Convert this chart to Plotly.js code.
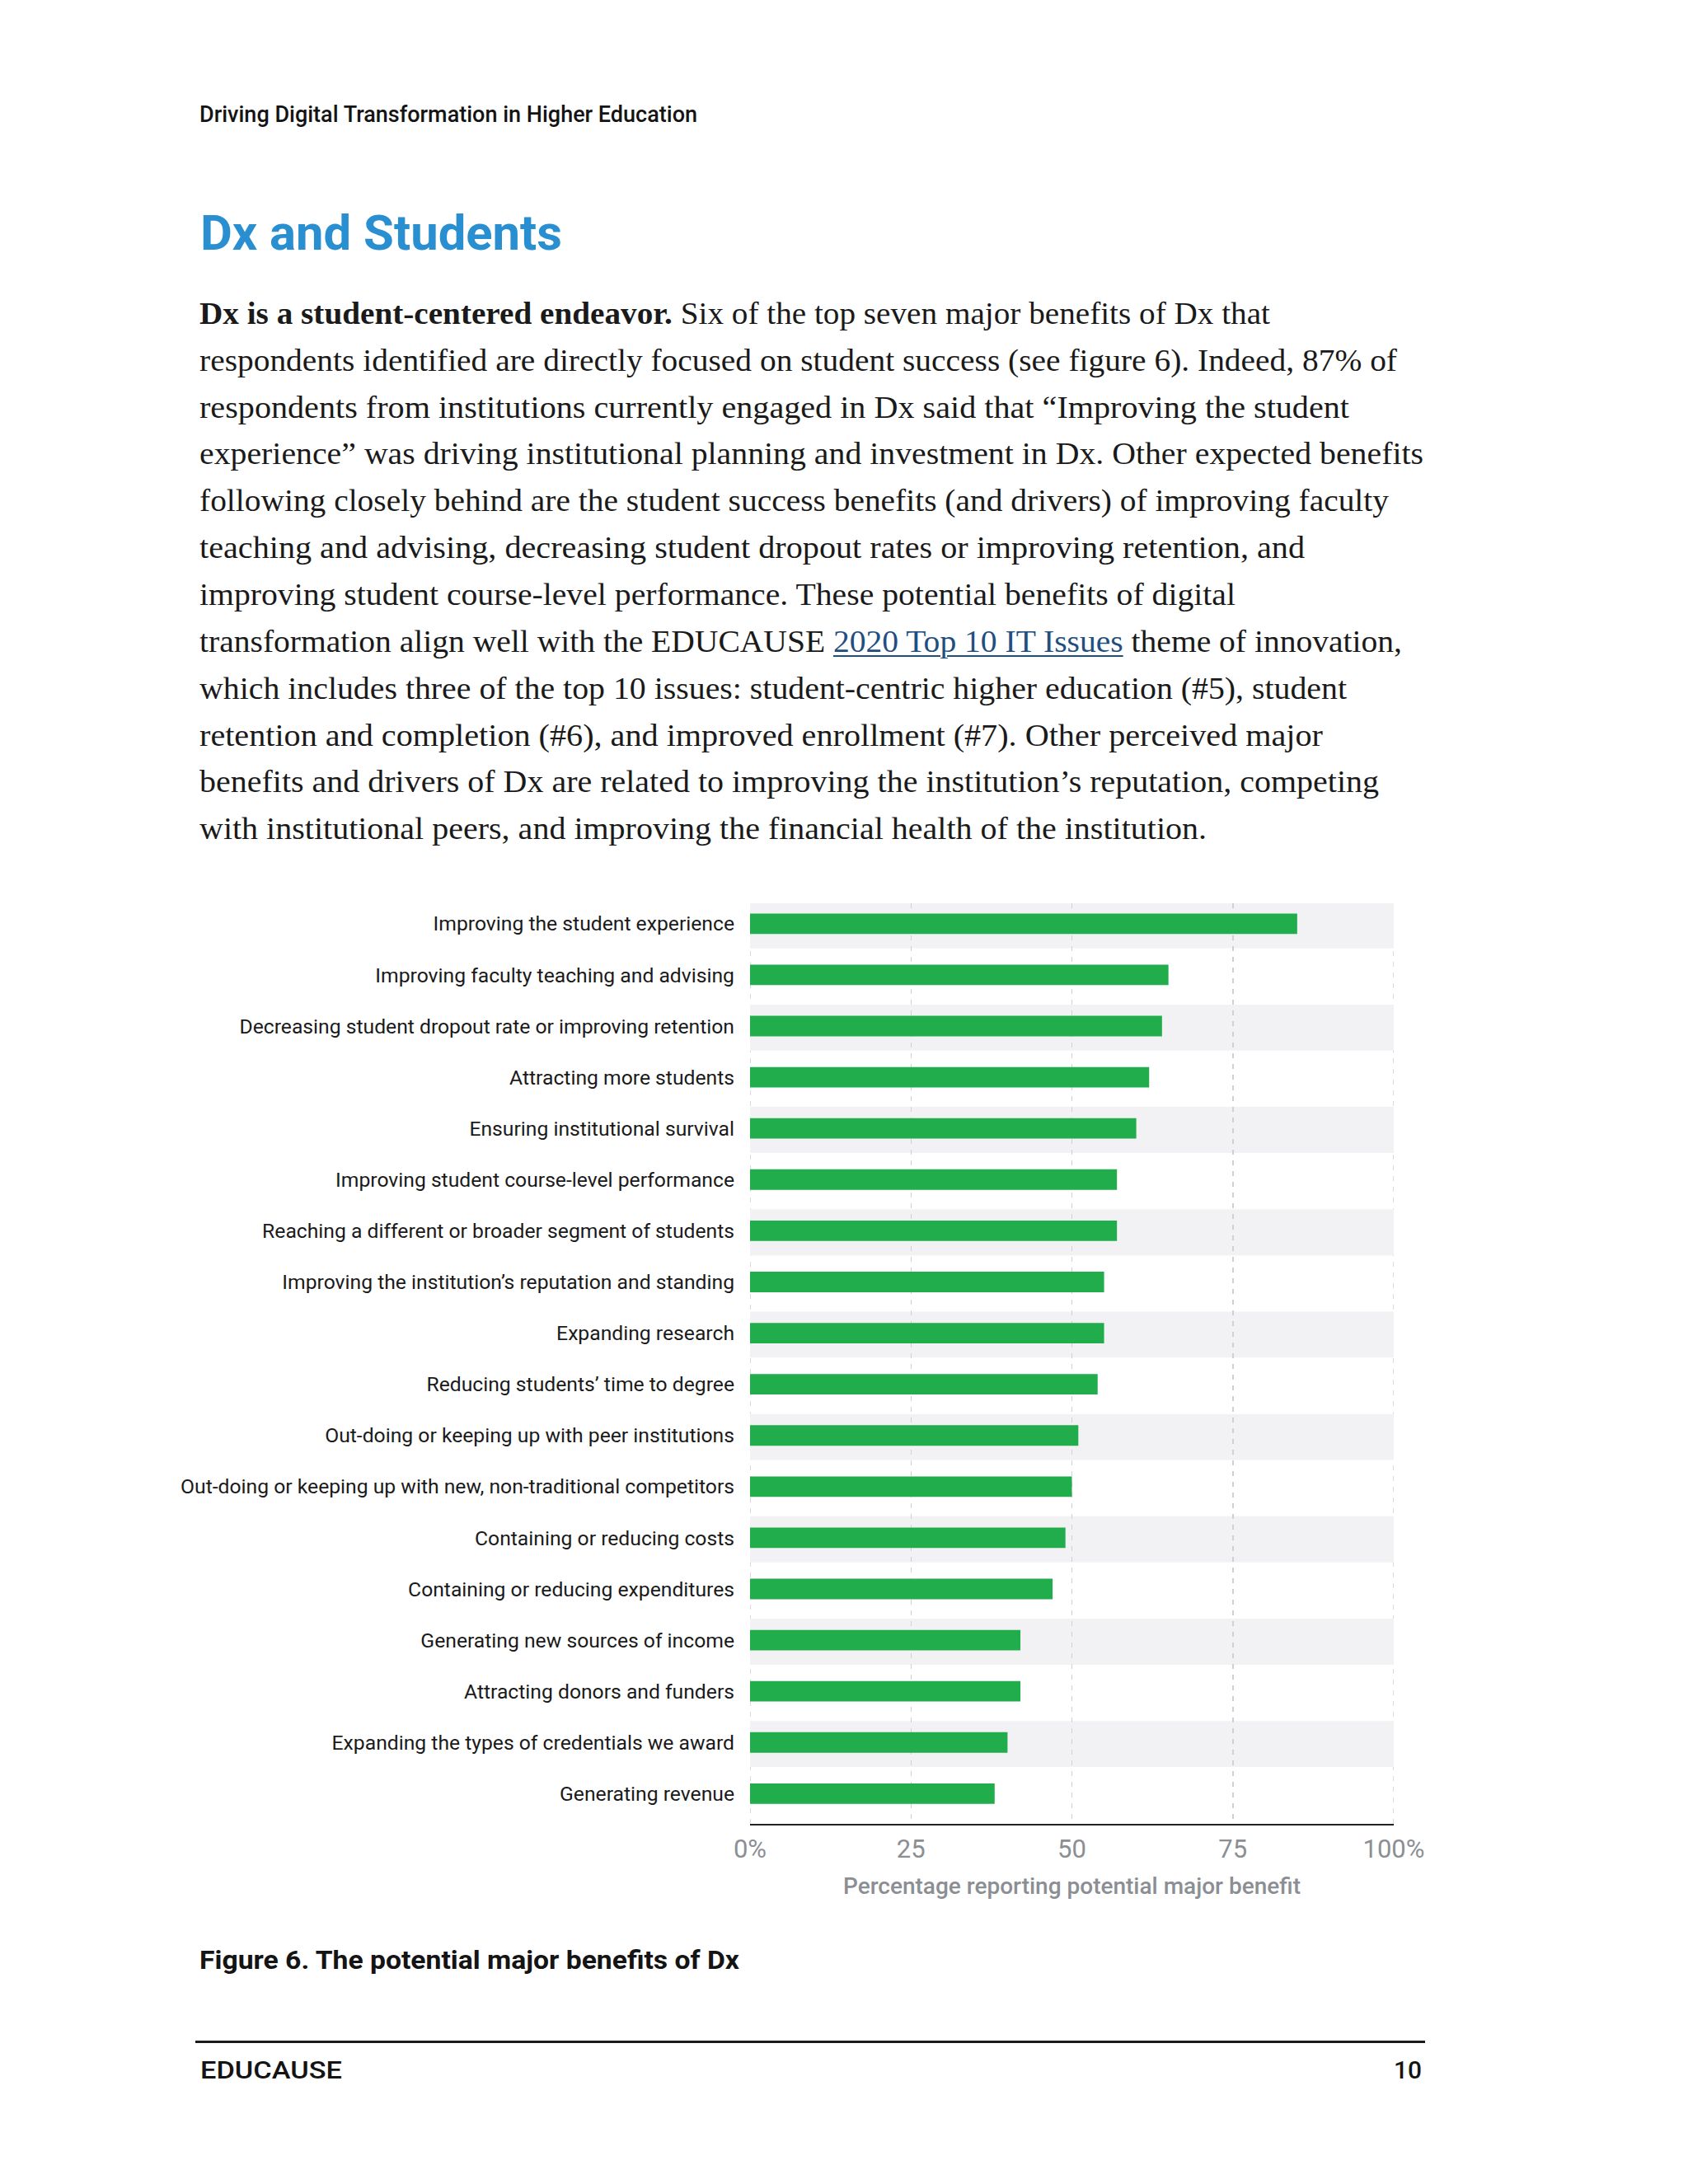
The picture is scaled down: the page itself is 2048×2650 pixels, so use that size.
<!DOCTYPE html>
<html>
<head>
<meta charset="utf-8">
<script src="https://cdn.plot.ly/plotly-3.0.1.min.js"></script>
<style>
html,body{margin:0;padding:0;background:#ffffff;}
body{width:2048px;height:2650px;position:relative;overflow:hidden;}
.t{position:absolute;white-space:nowrap;line-height:1;transform-origin:0 50%;display:inline-block;}
.sans{font-family:Roboto,"Noto Sans",sans-serif;color:#141414;}
.serif{font-family:"Liberation Serif",serif;color:#1a1a1a;font-size:37px;}
.serif a{color:#1f4f80;text-decoration:underline;text-decoration-thickness:2px;text-underline-offset:4px;}
#rule{position:absolute;left:237px;top:2476px;width:1492px;height:3px;background:#1a1a1a;}
#chart{position:absolute;left:0;top:1050px;width:2048px;height:1350px;}
</style>
</head>
<body>
<div class="t sans" data-x="242" data-cy="139" data-w="604" style="font-size:27px;font-weight:500;">Driving Digital Transformation in Higher Education</div>
<div class="t sans" data-x="243" data-cy="282" data-w="439" style="font-size:60px;font-weight:700;color:#2a8fd0;">Dx and Students</div>

<div class="t serif" data-x="242" data-cy="383" data-w="1299"><b>Dx is a student-centered endeavor.</b> Six of the top seven major benefits of Dx that</div>
<div class="t serif" data-x="242" data-cy="440" data-w="1453">respondents identified are directly focused on student success (see figure 6). Indeed, 87% of</div>
<div class="t serif" data-x="242" data-cy="497" data-w="1395">respondents from institutions currently engaged in Dx said that “Improving the student</div>
<div class="t serif" data-x="242" data-cy="553" data-w="1485">experience” was driving institutional planning and investment in Dx. Other expected benefits</div>
<div class="t serif" data-x="242" data-cy="610" data-w="1443">following closely behind are the student success benefits (and drivers) of improving faculty</div>
<div class="t serif" data-x="242" data-cy="667" data-w="1341">teaching and advising, decreasing student dropout rates or improving retention, and</div>
<div class="t serif" data-x="242" data-cy="724" data-w="1257">improving student course-level performance. These potential benefits of digital</div>
<div class="t serif" data-x="242" data-cy="781" data-w="1459">transformation align well with the EDUCAUSE <a>2020 Top 10 IT Issues</a> theme of innovation,</div>
<div class="t serif" data-x="242" data-cy="838" data-w="1392">which includes three of the top 10 issues: student-centric higher education (#5), student</div>
<div class="t serif" data-x="242" data-cy="895" data-w="1363">retention and completion (#6), and improved enrollment (#7). Other perceived major</div>
<div class="t serif" data-x="242" data-cy="951" data-w="1431">benefits and drivers of Dx are related to improving the institution’s reputation, competing</div>
<div class="t serif" data-x="242" data-cy="1008" data-w="1222">with institutional peers, and improving the financial health of the institution.</div>

<div id="chart"></div>

<div class="t sans" data-x="242" data-cy="2378" data-w="655" style="font-size:31px;font-weight:700;">Figure 6. The potential major benefits of Dx</div>
<div id="rule"></div>
<div class="t sans" data-x="243" data-cy="2512" data-w="172" style="font-size:29px;font-weight:500;">EDUCAUSE</div>
<div class="t sans" data-x="1691" data-cy="2512" data-w="34" style="font-size:29px;font-weight:500;">10</div>

<script>
// ---- data ----
const categories = [
  "Improving the student experience",
  "Improving faculty teaching and advising",
  "Decreasing student dropout rate or improving retention",
  "Attracting more students",
  "Ensuring institutional survival",
  "Improving student course-level performance",
  "Reaching a different or broader segment of students",
  "Improving the institution’s reputation and standing",
  "Expanding research",
  "Reducing students’ time to degree",
  "Out-doing or keeping up with peer institutions",
  "Out-doing or keeping up with new, non-traditional competitors",
  "Containing or reducing costs",
  "Containing or reducing expenditures",
  "Generating new sources of income",
  "Attracting donors and funders",
  "Expanding the types of credentials we award",
  "Generating revenue"
];
const values = [85, 65, 64, 62, 60, 57, 57, 55, 55, 54, 51, 50, 49, 47, 42, 42, 40, 38];
const tickValues = [0, 25, 50, 75, 100];
const tickLabels = ["0%", "25", "50", "75", "100%"];
const axisTitle = "Percentage reporting potential major benefit";

// ---- page text placement ----
document.querySelectorAll('.t').forEach(el => {
  const fs = parseFloat(getComputedStyle(el).fontSize);
  const isSerif = el.classList.contains('serif');
  el.style.left = el.dataset.x + 'px';
  el.style.top = (parseFloat(el.dataset.cy) - (isSerif ? 0.57 : 0.49) * fs) + 'px';
  const w = el.getBoundingClientRect().width;
  const target = parseFloat(el.dataset.w);
  if (w > 0) el.style.transform = 'scaleX(' + (target / w) + ')';
});

// ---- chart ----
const gridColor = '#cfd0d3';
const gridDash = '6px,7px';
const shapes = [];
categories.forEach((c, i) => {
  if (i % 2 === 0) {
    shapes.push({type: 'rect', xref: 'x', yref: 'y', x0: tickValues[0], x1: tickValues[tickValues.length - 1],
      y0: i - 0.42, y1: i + 0.48, fillcolor: '#f2f2f4', line: {width: 0}, layer: 'below'});
  }
});
// gridlines at the two range ends (Plotly skips grid lines on the plot edges)
[tickValues[0], tickValues[tickValues.length - 1]].forEach(v => {
  shapes.push({type: 'line', xref: 'x', yref: 'paper', x0: v, x1: v, y0: 0, y1: 1,
    line: {color: gridColor, width: 1.5, dash: gridDash}, layer: 'between'});
});

const trace = {
  type: 'bar', orientation: 'h', y: categories, x: values,
  marker: {color: '#21ad4b'}, hoverinfo: 'skip'
};

const layout = {
  width: 2048, height: 1350,
  margin: {l: 910, r: 357, t: 46, b: 187, pad: 0},
  paper_bgcolor: 'rgba(0,0,0,0)', plot_bgcolor: 'rgba(0,0,0,0)',
  bargap: 0.6, showlegend: false,
  font: {family: 'Roboto, "Noto Sans", sans-serif'},
  xaxis: {
    range: [0, 100], tickmode: 'array', tickvals: tickValues, ticktext: tickLabels,
    showgrid: true, gridcolor: gridColor, gridwidth: 1.5, griddash: gridDash,
    zeroline: false, showline: true, linecolor: '#222222', linewidth: 2,
    ticks: '', ticklabelstandoff: 2,
    tickfont: {size: 31, color: '#8b8e93'},
    title: {text: axisTitle, font: {size: 28, color: '#8b8e93', weight: 500}, standoff: 17},
    fixedrange: true
  },
  yaxis: {
    type: 'category', categoryorder: 'array', categoryarray: categories,
    range: [17.59, -0.40], showgrid: false, zeroline: false, showline: false,
    ticks: '', ticklabelstandoff: 18,
    tickfont: {size: 24.7, color: '#1a1a1a'}, fixedrange: true
  },
  shapes: shapes
};

Plotly.newPlot('chart', [trace], layout, {displayModeBar: false, staticPlot: true});
</script>
</body>
</html>
